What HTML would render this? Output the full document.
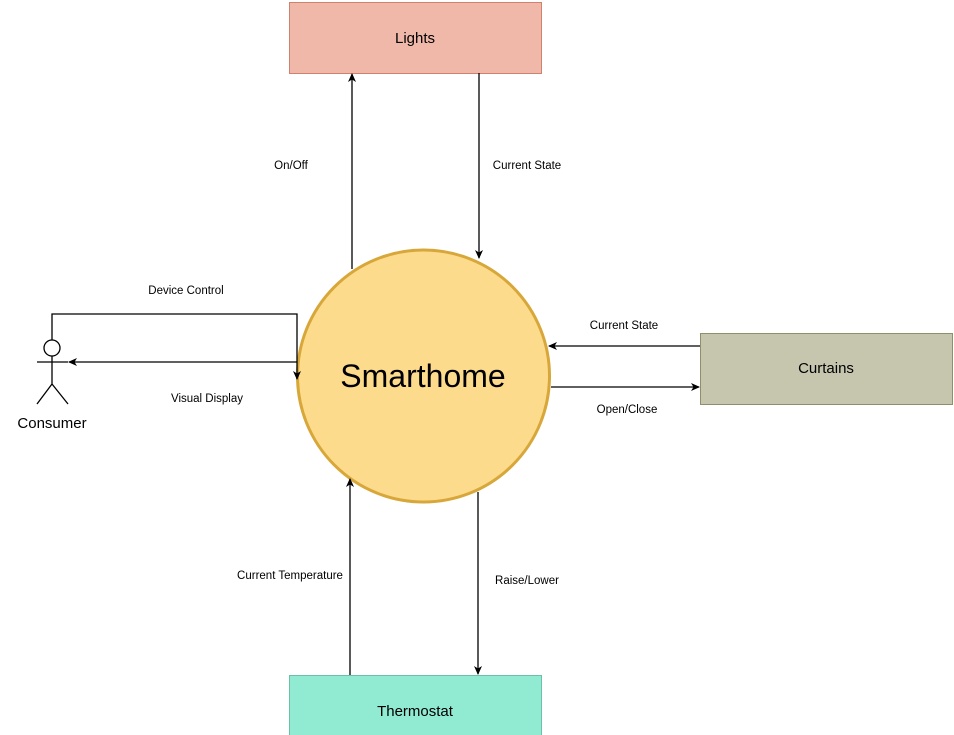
<!DOCTYPE html>
<html><head><meta charset="utf-8"><style>body{margin:0;background:#fff}svg{display:block}text{font-family:"Liberation Sans",sans-serif}</style></head><body>
<svg width="954" height="735" viewBox="0 0 954 735" xmlns="http://www.w3.org/2000/svg">
<defs><marker id="a" markerWidth="10" markerHeight="10" refX="8" refY="5" orient="auto" markerUnits="userSpaceOnUse"><path d="M0,1 L9,5 L0,9 L2.5,5 Z" fill="#000"/></marker></defs>
<rect x="289.5" y="2.5" width="252" height="71" fill="#f0b8a8" stroke="#d0806f"/>
<text x="415" y="43" font-size="15" text-anchor="middle">Lights</text>
<rect x="700.5" y="333.5" width="252" height="71" fill="#c6c5ae" stroke="#8f8f6a"/>
<text x="826" y="373" font-size="15" text-anchor="middle">Curtains</text>
<rect x="289.5" y="675.5" width="252" height="71" fill="#91ead2" stroke="#6cc0a6"/>
<text x="415" y="716" font-size="15" text-anchor="middle">Thermostat</text>
<ellipse cx="423.5" cy="376" rx="126" ry="126" fill="#fddb8c" stroke="#d8a73a" stroke-width="3"/>
<text x="423" y="387" font-size="32" text-anchor="middle">Smarthome</text>
<g stroke="#000" stroke-width="1.3" fill="none">
<path d="M352,269 V74" marker-end="url(#a)"/>
<path d="M479,73 V258" marker-end="url(#a)"/>
<path d="M700,346 H549" marker-end="url(#a)"/>
<path d="M551,387 H699" marker-end="url(#a)"/>
<path d="M478,492 V674" marker-end="url(#a)"/>
<path d="M350,675 V479" marker-end="url(#a)"/>
<path d="M52,340 V314 H297 V379" marker-end="url(#a)"/>
<path d="M297,362 H69" marker-end="url(#a)"/>
<circle cx="52" cy="348" r="8" fill="#fff"/>
<path d="M37,362 H68 M52,356 V384 M52,384 L37,404 M52,384 L68,404"/>
</g>
<text x="52" y="428" font-size="15" text-anchor="middle">Consumer</text>
<g font-size="11.5">
<text x="291" y="169" text-anchor="middle">On/Off</text>
<text x="527" y="169" text-anchor="middle">Current State</text>
<text x="186" y="294" text-anchor="middle">Device Control</text>
<text x="207" y="402" text-anchor="middle">Visual Display</text>
<text x="624" y="329" text-anchor="middle">Current State</text>
<text x="627" y="413" text-anchor="middle">Open/Close</text>
<text x="290" y="579" text-anchor="middle">Current Temperature</text>
<text x="527" y="584" text-anchor="middle">Raise/Lower</text>
</g>
</svg>
</body></html>
